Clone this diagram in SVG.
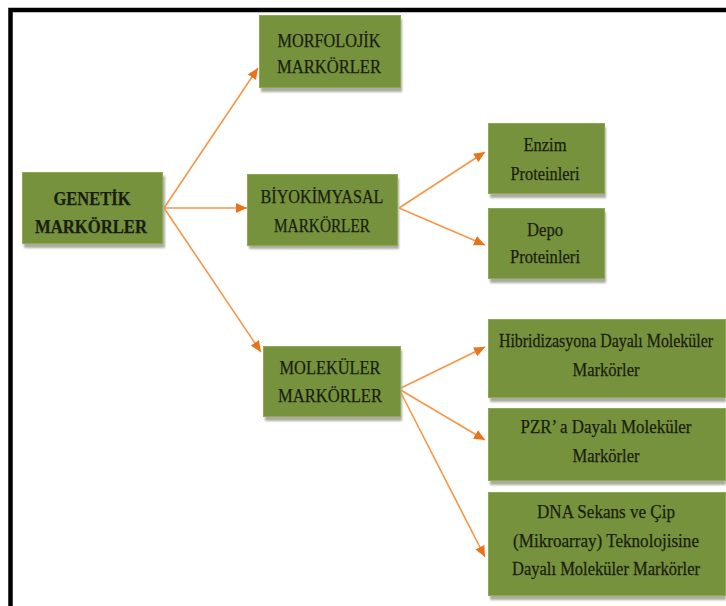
<svg xmlns="http://www.w3.org/2000/svg" width="726" height="606" viewBox="0 0 726 606">
  <defs>
    <marker id="ah" viewBox="0 0 10 10" refX="10" refY="5" markerWidth="11" markerHeight="11" markerUnits="userSpaceOnUse" orient="auto">
      <path d="M0,0.5 L10,5 L0,9.5 Z" fill="#E8731A"/>
    </marker>
    <filter id="blur" x="-5%" y="-5%" width="110%" height="120%">
      <feGaussianBlur stdDeviation="1.2"/>
    </filter>
  </defs>
  <style>
    .box { fill: #76923C; stroke: #8DAA52; stroke-width: 1; }
    .shadow { fill: #A9AC9F; filter: url(#blur); }
    .t { font-family: 'Liberation Serif', 'Times New Roman', 'DejaVu Serif', serif; font-size: 19px; fill: #1b1d12; stroke: #1b1d12; stroke-width: 0.25; text-anchor: middle; }
    .b { font-weight: bold; }
    .con { fill: none; stroke: #F79646; stroke-width: 1.6; marker-end: url(#ah); }
  </style>
  <rect width="726" height="606" fill="#ffffff"/>
  <rect x="10.5" y="10" width="800" height="700" fill="none" stroke="#000000" stroke-width="4.5"/>

  <g id="connectors">
    <line class="con" x1="164" y1="208" x2="258" y2="68"/>
    <line class="con" x1="164" y1="208" x2="247" y2="208"/>
    <line class="con" x1="164" y1="208" x2="261" y2="352"/>
    <line class="con" x1="399" y1="208" x2="485" y2="152"/>
    <line class="con" x1="399" y1="208" x2="485" y2="245"/>
    <line class="con" x1="399" y1="389" x2="485" y2="347"/>
    <line class="con" x1="399" y1="389" x2="485" y2="440"/>
    <line class="con" x1="399" y1="389" x2="485" y2="557"/>
  </g>

  <g id="genetik">
    <rect class="shadow" x="24" y="176" width="141" height="72"/>
    <rect class="box" x="22.5" y="172.5" width="140" height="71"/>
    <text class="t b" x="92" y="205" textLength="77" lengthAdjust="spacingAndGlyphs">GENETİK</text>
    <text class="t b" x="91" y="233" textLength="112" lengthAdjust="spacingAndGlyphs">MARKÖRLER</text>
  </g>

  <g id="morfolojik">
    <rect class="shadow" x="261" y="19" width="141" height="73"/>
    <rect class="box" x="259.5" y="15.5" width="141" height="72"/>
    <text class="t" x="329" y="47" textLength="103" lengthAdjust="spacingAndGlyphs">MORFOLOJİK</text>
    <text class="t" x="329" y="73" textLength="104" lengthAdjust="spacingAndGlyphs">MARKÖRLER</text>
  </g>

  <g id="biyokimyasal">
    <rect class="shadow" x="249" y="178" width="150" height="71"/>
    <rect class="box" x="247.5" y="174.5" width="150" height="71"/>
    <text class="t" x="322" y="203" textLength="123" lengthAdjust="spacingAndGlyphs">BİYOKİMYASAL</text>
    <text class="t" x="322" y="232" textLength="96" lengthAdjust="spacingAndGlyphs">MARKÖRLER</text>
  </g>

  <g id="molekuler">
    <rect class="shadow" x="265" y="350" width="137" height="71"/>
    <rect class="box" x="263.5" y="346.5" width="137" height="70"/>
    <text class="t" x="330" y="374" textLength="101" lengthAdjust="spacingAndGlyphs">MOLEKÜLER</text>
    <text class="t" x="330" y="402" textLength="104" lengthAdjust="spacingAndGlyphs">MARKÖRLER</text>
  </g>

  <g id="enzim">
    <rect class="shadow" x="490" y="127" width="116" height="71"/>
    <rect class="box" x="488.5" y="123.5" width="116" height="70"/>
    <text class="t" x="545" y="151" textLength="43" lengthAdjust="spacingAndGlyphs">Enzim</text>
    <text class="t" x="545" y="180" textLength="69" lengthAdjust="spacingAndGlyphs">Proteinleri</text>
  </g>

  <g id="depo">
    <rect class="shadow" x="490" y="212" width="116" height="71"/>
    <rect class="box" x="488.5" y="208.5" width="116" height="70"/>
    <text class="t" x="545" y="236" textLength="36" lengthAdjust="spacingAndGlyphs">Depo</text>
    <text class="t" x="545" y="263" textLength="70" lengthAdjust="spacingAndGlyphs">Proteinleri</text>
  </g>

  <g id="hibridizasyon">
    <rect class="shadow" x="490" y="323" width="236" height="79"/>
    <rect class="box" x="488.5" y="319.5" width="237" height="78"/>
    <text class="t" transform="translate(606,347) scale(0.84,1)" x="0" y="0" textLength="255" lengthAdjust="spacingAndGlyphs">Hibridizasyona Dayalı Moleküler</text>
    <text class="t" x="606" y="376" textLength="67" lengthAdjust="spacingAndGlyphs">Markörler</text>
  </g>

  <g id="pzr">
    <rect class="shadow" x="490" y="412" width="236" height="73"/>
    <rect class="box" x="488.5" y="408.5" width="237" height="72"/>
    <text class="t" x="606" y="433" textLength="171" lengthAdjust="spacingAndGlyphs">PZR’ a Dayalı Moleküler</text>
    <text class="t" x="606" y="462" textLength="67" lengthAdjust="spacingAndGlyphs">Markörler</text>
  </g>

  <g id="dna">
    <rect class="shadow" x="490" y="496" width="236" height="104"/>
    <rect class="box" x="488.5" y="492.5" width="237" height="103"/>
    <text class="t" x="606" y="518" textLength="138" lengthAdjust="spacingAndGlyphs">DNA Sekans ve Çip</text>
    <text class="t" x="606" y="547" textLength="186" lengthAdjust="spacingAndGlyphs">(Mikroarray) Teknolojisine</text>
    <text class="t" transform="translate(606,575) scale(0.87,1)" x="0" y="0" textLength="216" lengthAdjust="spacingAndGlyphs">Dayalı Moleküler Markörler</text>
  </g>
</svg>
